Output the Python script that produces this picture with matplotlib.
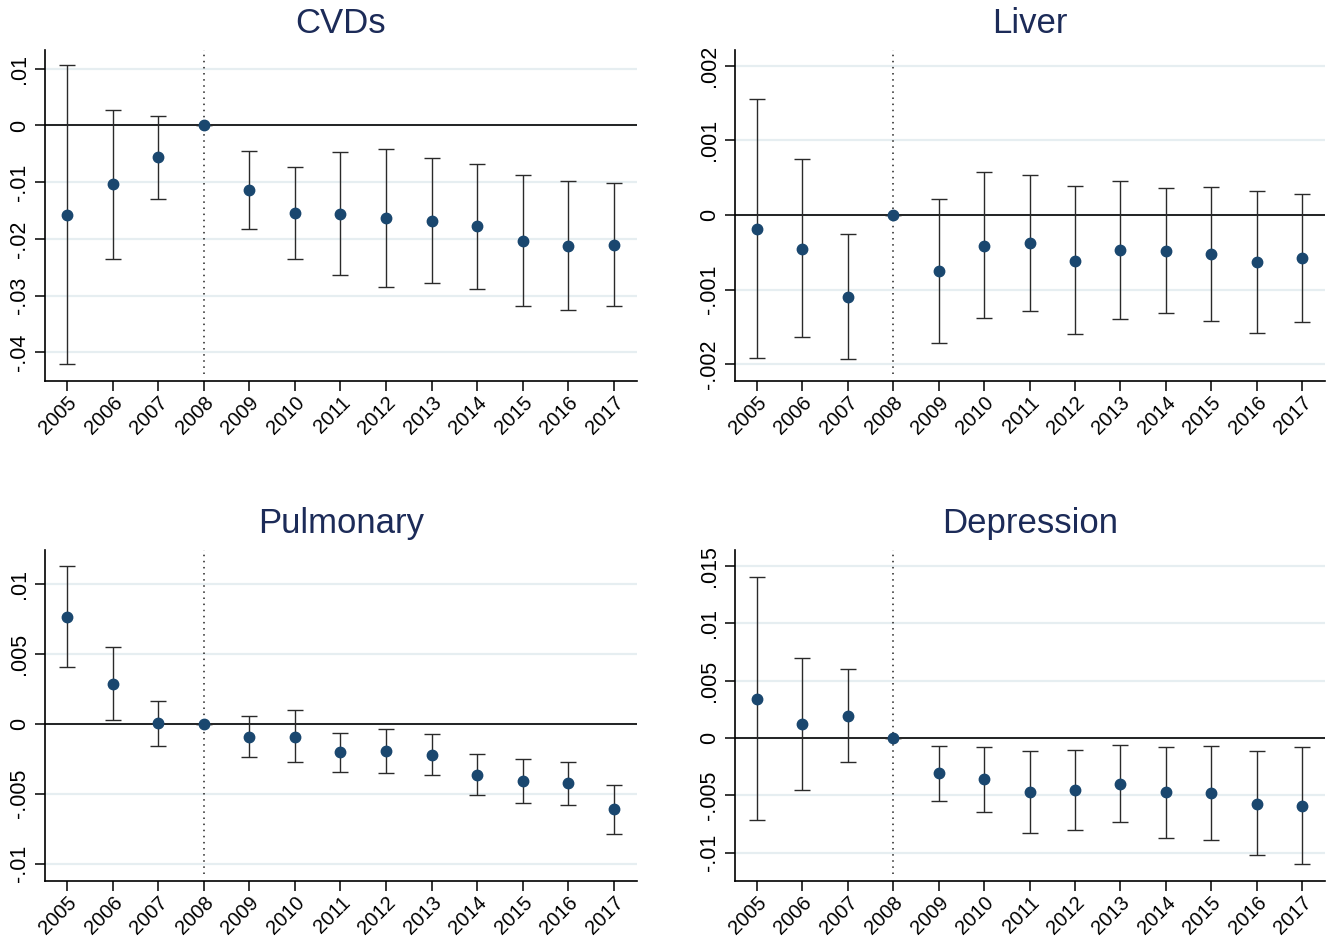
import matplotlib
matplotlib.use("Agg")
import matplotlib.pyplot as plt
import numpy as np

plt.rcParams['font.family'] = ['Liberation Sans', 'DejaVu Sans']

years = [2005, 2006, 2007, 2008, 2009, 2010, 2011, 2012, 2013, 2014, 2015, 2016, 2017]
titles = ["CVDs", "Liver", "Pulmonary", "Depression"]

cvd_est = [-0.01576, -0.01035, -0.00565, 0.0, -0.0114, -0.0155, -0.0156, -0.0164, -0.0168, -0.0178, -0.0203, -0.0212, -0.0210]
cvd_lo = [-0.0421, -0.0235, -0.0129, 0.0, -0.0182, -0.0235, -0.0264, -0.0285, -0.0277, -0.0288, -0.0318, -0.0325, -0.0319]
cvd_hi = [0.01059, 0.00276, 0.00165, 0.0, -0.00447, -0.0074, -0.00476, -0.00424, -0.00576, -0.00676, -0.00865, -0.00988, -0.0101]

liver_est = [-0.000188, -0.00045, -0.0011, 0.0, -0.000746, -0.00041, -0.000375, -0.00061, -0.00047, -0.00048, -0.00052, -0.00063, -0.00058]
liver_lo = [-0.00192, -0.00163, -0.00193, 0.0, -0.00171, -0.00138, -0.00129, -0.0016, -0.00139, -0.00131, -0.00142, -0.00158, -0.00143]
liver_hi = [0.00155, 0.00075, -0.00026, 0.0, 0.00022, 0.00057, 0.000536, 0.000384, 0.000455, 0.000357, 0.00038, 0.000326, 0.000286]

pulm_est = [0.00762, 0.00283, 0.00002, 0.0, -0.00098, -0.00093, -0.00205, -0.00198, -0.00224, -0.00364, -0.0041, -0.00426, -0.00612]
pulm_lo = [0.00402, 0.00029, -0.0016, 0.0, -0.0024, -0.00274, -0.00345, -0.00355, -0.00369, -0.0051, -0.00569, -0.00579, -0.00788]
pulm_hi = [0.01126, 0.00545, 0.00164, 0.0, 0.00052, 0.00095, -0.00064, -0.0004, -0.00076, -0.00219, -0.00252, -0.00271, -0.00438]

dep_est = [0.00343, 0.00119, 0.00195, 0.0, -0.00308, -0.00358, -0.00471, -0.00453, -0.00398, -0.00474, -0.0048, -0.00576, -0.00593]
dep_lo = [-0.00712, -0.0045, -0.00212, 0.0, -0.00552, -0.00642, -0.00828, -0.00802, -0.00735, -0.00869, -0.00892, -0.01023, -0.01099]
dep_hi = [0.01401, 0.00695, 0.00602, 0.0, -0.00067, -0.00076, -0.0011, -0.00105, -0.00058, -0.00076, -0.00067, -0.00116, -0.00081]

cvd_ticks = [-0.04, -0.03, -0.02, -0.01, 0.0, 0.01]
cvd_ticklabels = ["-.04", "-.03", "-.02", "-.01", "0", ".01"]
liver_ticks = [-0.002, -0.001, 0.0, 0.001, 0.002]
liver_ticklabels = ["-.002", "-.001", "0", ".001", ".002"]
pulm_ticks = [-0.01, -0.005, 0.0, 0.005, 0.01]
pulm_ticklabels = ["-.01", "-.005", "0", ".005", ".01"]
dep_ticks = [-0.01, -0.005, 0.0, 0.005, 0.01, 0.015]
dep_ticklabels = ["-.01", "-.005", "0", ".005", ".01", ".015"]

panels = [
    (cvd_est, cvd_lo, cvd_hi, cvd_ticks, cvd_ticklabels, (-0.0450, 0.0133)),
    (liver_est, liver_lo, liver_hi, liver_ticks, liver_ticklabels, (-0.00222, 0.00221)),
    (pulm_est, pulm_lo, pulm_hi, pulm_ticks, pulm_ticklabels, (-0.01121, 0.0124)),
    (dep_est, dep_lo, dep_hi, dep_ticks, dep_ticklabels, (-0.01244, 0.0164)),
]

W, H = 1333, 940
fig = plt.figure(figsize=(W / 100, H / 100), dpi=100)

boxes = [
    (45, 637, 50, 380.7),
    (735, 1325, 50, 380.7),
    (45, 637, 550, 880.7),
    (735, 1325, 550, 880.7),
]

marker_color = '#1a476f'
title_color = '#1c2b58'
grid_color = '#e6eef1'

for (est, lo, hi, ticks, ticklabels, ylim), (x0, x1, y0, y1), title in zip(panels, boxes, titles):
    ax = fig.add_axes([x0 / W, 1 - y1 / H, (x1 - x0) / W, (y1 - y0) / H])
    est = np.array(est)
    lo = np.array(lo)
    hi = np.array(hi)
    for t in ticks:
        ax.axhline(t, color=grid_color, lw=1.6, zorder=0)
    ax.axhline(0, color='black', lw=1.2, zorder=1)
    ax.axvline(2008, ymin=0.021, ymax=1, color='#222222', lw=1.1, ls=(0, (1, 3)), zorder=1)
    ax.errorbar(years, est, yerr=[est - lo, hi - est], fmt='none', ecolor='#2a2a2a',
                elinewidth=1.0, capsize=5.5, capthick=1.0, zorder=2)
    ax.plot(years, est, 'o', color=marker_color, markersize=7.5, zorder=3)
    ax.set_xlim(2004.517, 2017.505)
    ax.set_ylim(*ylim)
    ax.set_xticks(years)
    ax.set_xticklabels([str(y) for y in years], rotation=45, ha='right', rotation_mode='anchor', fontsize=14.5)
    ax.set_yticks(ticks)
    ax.set_yticklabels(ticklabels, rotation=90, va='center', fontsize=15.5)
    ax.tick_params(axis='both', direction='out', length=7, width=1.1, color='black', pad=4)
    ax.tick_params(axis='x', pad=1.5)
    for s in ['top', 'right']:
        ax.spines[s].set_visible(False)
    for s in ['left', 'bottom']:
        ax.spines[s].set_linewidth(1.2)
    ax.set_title(title, fontsize=25, color=title_color, pad=12)

fig.savefig('out.png', dpi=100)
